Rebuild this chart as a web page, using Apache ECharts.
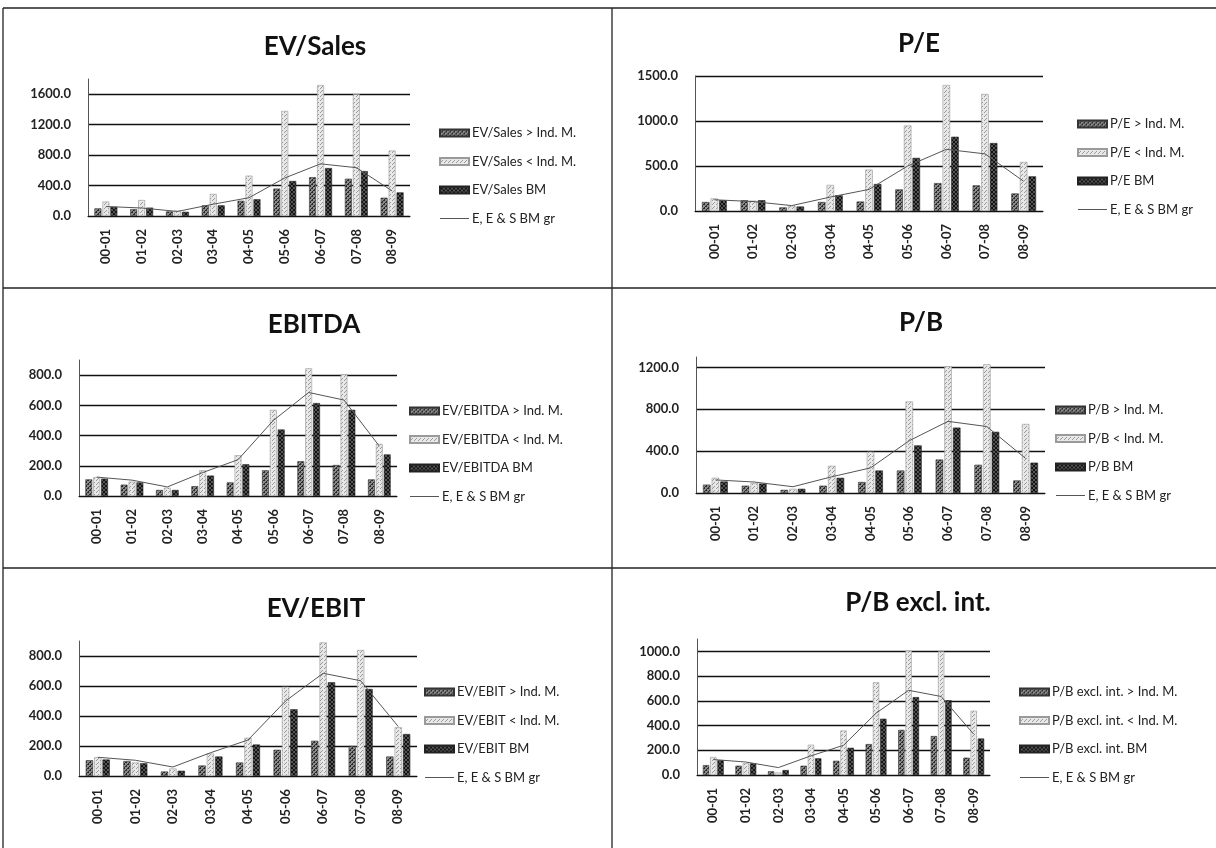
<!DOCTYPE html>
<html>
<head>
<meta charset="utf-8">
<script src="https://cdn.jsdelivr.net/npm/echarts@6/dist/echarts.min.js"></script>
<style>
  html, body { margin: 0; padding: 0; background: #fff; }
  #chart { width: 1216px; height: 848px; }
</style>
</head>
<body>
<div id="chart"></div>
<script>
// Fiscal-year categories shared by all six panels
const categories = ['00-01', '01-02', '02-03', '03-04', '04-05', '05-06', '06-07', '07-08', '08-09'];

// Benchmark growth line drawn in every panel
const benchmarkGrowth = [125, 105, 60, 155, 240, 500, 685, 635, 330];

// EV/Sales
const evSalesAbove = [100, 90, 60, 140, 200, 360, 510, 490, 240];
const evSalesBelow = [190, 210, 70, 290, 530, 1380, 1720, 1600, 860];
const evSalesBM    = [120, 110, 55, 140, 220, 460, 630, 590, 310];

// P/E
const peAbove = [100, 120, 40, 100, 105, 240, 310, 285, 195];
const peBelow = [140, 115, 60, 290, 460, 950, 1400, 1300, 545];
const peBM    = [120, 120, 50, 175, 300, 590, 825, 755, 385];

// EV/EBITDA
const ebitdaAbove = [110, 75, 40, 65, 90, 170, 230, 205, 110];
const ebitdaBelow = [125, 95, 55, 170, 270, 570, 845, 805, 345];
const ebitdaBM    = [115, 90, 40, 135, 210, 440, 615, 570, 275];

// P/B
const pbAbove = [80, 70, 30, 70, 105, 215, 320, 270, 120];
const pbBelow = [145, 95, 40, 260, 395, 875, 1210, 1230, 660];
const pbBM    = [110, 90, 40, 145, 215, 455, 625, 585, 290];

// EV/EBIT
const evEbitAbove = [105, 100, 30, 70, 90, 175, 235, 200, 130];
const evEbitBelow = [125, 90, 50, 150, 255, 595, 890, 840, 325];
const evEbitBM    = [110, 85, 35, 130, 210, 445, 625, 580, 280];

// P/B excl. intangibles
const pbExAbove = [80, 75, 30, 75, 115, 250, 365, 315, 140];
const pbExBelow = [145, 95, 20, 245, 360, 750, 1005, 1000, 520];
const pbExBM    = [120, 95, 40, 135, 220, 455, 630, 605, 295];

const lineName = 'E, E & S BM gr';

// Panel definitions: titles, legend names and their data arrays
const panels = [
  { title: 'EV/Sales', names: ['EV/Sales > Ind. M.', 'EV/Sales < Ind. M.', 'EV/Sales BM'],
    data: [evSalesAbove, evSalesBelow, evSalesBM], max: 1800, interval: 400,
    grid: { left: 88, top: 79, width: 322, height: 137 }, titlePos: [310, 29], legendPos: [434, 121] },
  { title: 'P/E', names: ['P/E > Ind. M.', 'P/E < Ind. M.', 'P/E BM'],
    data: [peAbove, peBelow, peBM], max: 1500, interval: 500,
    grid: { left: 695, top: 76, width: 348, height: 135 }, titlePos: [914, 26], legendPos: [1072, 112] },
  { title: 'EBITDA', names: ['EV/EBITDA > Ind. M.', 'EV/EBITDA < Ind. M.', 'EV/EBITDA BM'],
    data: [ebitdaAbove, ebitdaBelow, ebitdaBM], max: 900, interval: 200,
    grid: { left: 79, top: 360, width: 318, height: 136 }, titlePos: [309, 307], legendPos: [404, 399] },
  { title: 'P/B', names: ['P/B > Ind. M.', 'P/B < Ind. M.', 'P/B BM'],
    data: [pbAbove, pbBelow, pbBM], max: 1300, interval: 400,
    grid: { left: 696, top: 357, width: 349, height: 136 }, titlePos: [916, 305], legendPos: [1050, 398] },
  { title: 'EV/EBIT', names: ['EV/EBIT > Ind. M.', 'EV/EBIT < Ind. M.', 'EV/EBIT BM'],
    data: [evEbitAbove, evEbitBelow, evEbitBM], max: 900, interval: 200,
    grid: { left: 79, top: 641, width: 338, height: 135 }, titlePos: [311, 591], legendPos: [419, 680] },
  { title: 'P/B excl. int.', names: ['P/B excl. int. > Ind. M.', 'P/B excl. int. < Ind. M.', 'P/B excl. int. BM'],
    data: [pbExAbove, pbExBelow, pbExBM], max: 1100, interval: 200,
    grid: { left: 697, top: 639, width: 293, height: 136 }, titlePos: [913, 585], legendPos: [1014, 680] }
];

// Small tiled textures for the three bar styles
function pattern(bg, fg, draw) {
  const c = document.createElement('canvas');
  c.width = 4; c.height = 4;
  const ctx = c.getContext('2d');
  ctx.fillStyle = bg; ctx.fillRect(0, 0, 4, 4);
  ctx.fillStyle = fg;
  draw(ctx);
  return { image: c, repeat: 'repeat' };
}
const hatchDark = pattern('#8a8a8a', '#2a2a2a', ctx => {
  for (let i = 0; i < 4; i++) ctx.fillRect(i, 3 - i, 1, 1);
  ctx.fillRect(0, 0, 1, 1); ctx.fillRect(2, 2, 1, 1);
});
const dotsLight = pattern('#e8e8e8', '#9a9a9a', ctx => {
  ctx.fillRect(0, 0, 1, 1); ctx.fillRect(2, 2, 1, 1); ctx.fillRect(1, 3, 1, 1);
});
const crossDark = pattern('#555555', '#141414', ctx => {
  for (let i = 0; i < 4; i++) { ctx.fillRect(i, i, 1, 1); ctx.fillRect(i, 3 - i, 1, 1); }
});
const barStyles = [
  { color: hatchDark, borderColor: '#333', borderWidth: 0.6 },
  { color: dotsLight, borderColor: '#9a9a9a', borderWidth: 0.6 },
  { color: crossDark, borderColor: '#222', borderWidth: 0.6 }
];

// Thin horizontal stroke used as the legend key of the line series
// (box proportions equal the legend item size so the stroke spans the full width)
const lineIcon = 'path://M0,0L0.1,0L0.1,0.01Z M0,3L29,3L29,4L0,4Z M0,7L0.1,7L0.1,7.01Z';

const fontFamily = 'Lato, "Open Sans", sans-serif';
const option = {
  animation: false,
  backgroundColor: '#fff',
  title: [], legend: [], grid: [], xAxis: [], yAxis: [], series: [],
  graphic: []
};

panels.forEach((p, i) => {
  option.title.push({
    text: p.title, left: p.titlePos[0], top: p.titlePos[1], textAlign: 'center',
    textStyle: { fontFamily, fontSize: 26, fontWeight: 'bold', color: '#111' }
  });
  option.grid.push(Object.assign({ containLabel: false }, p.grid));
  option.xAxis.push({
    type: 'category', gridIndex: i, data: categories,
    axisLine: { lineStyle: { color: '#111', width: 1.2 } },
    axisTick: { show: false },
    axisLabel: { rotate: 90, margin: 13, fontFamily, fontSize: 13, fontWeight: 'bold', color: '#222' },
    splitLine: { show: false }
  });
  option.yAxis.push({
    type: 'value', gridIndex: i, min: 0, max: p.max, interval: p.interval,
    axisLine: { show: true, lineStyle: { color: '#555', width: 1 } },
    axisTick: { show: false },
    axisLabel: {
      margin: 17, fontFamily, fontSize: 13, fontWeight: 'bold', color: '#222',
      showMaxLabel: p.max % p.interval === 0,
      formatter: v => (v % p.interval === 0 ? v.toFixed(1) : '')
    },
    splitLine: { show: true, showMaxLine: p.max % p.interval === 0, lineStyle: { color: '#111', width: 1.4 } }
  });
  p.names.forEach((name, k) => {
    option.series.push({
      name, type: 'bar', xAxisIndex: i, yAxisIndex: i, data: p.data[k],
      barGap: '15%', barCategoryGap: '36%',
      itemStyle: barStyles[k]
    });
  });
  option.series.push({
    name: lineName, type: 'line', xAxisIndex: i, yAxisIndex: i, data: benchmarkGrowth,
    symbol: 'none', lineStyle: { color: '#555', width: 1 }, itemStyle: { color: '#555' }, z: 5
  });
  option.legend.push({
    orient: 'vertical', left: p.legendPos[0], top: p.legendPos[1],
    data: p.names.map(n => ({ name: n, icon: 'rect' })).concat([{ name: lineName, icon: lineIcon }]),
    itemWidth: 29, itemHeight: 7, itemGap: 14.5,
    selectedMode: false,
    textStyle: { fontFamily, fontSize: 13, color: '#222', lineHeight: 14, padding: [0, 0, 0, -2] }
  });
});

// Table frame around the six panels
const frame = [
  [3, 8, 1216, 8], [3, 288, 1216, 288], [3, 568, 1216, 568],
  [3, 8, 3, 848], [612, 8, 612, 848]
];
frame.forEach(([x1, y1, x2, y2]) => {
  option.graphic.push({
    type: 'line', shape: { x1, y1, x2, y2 }, silent: true,
    style: { stroke: '#222', lineWidth: 1.3 }
  });
});

const chart = echarts.init(document.getElementById('chart'), null, { renderer: 'canvas' });
chart.setOption(option);
</script>
</body>
</html>
